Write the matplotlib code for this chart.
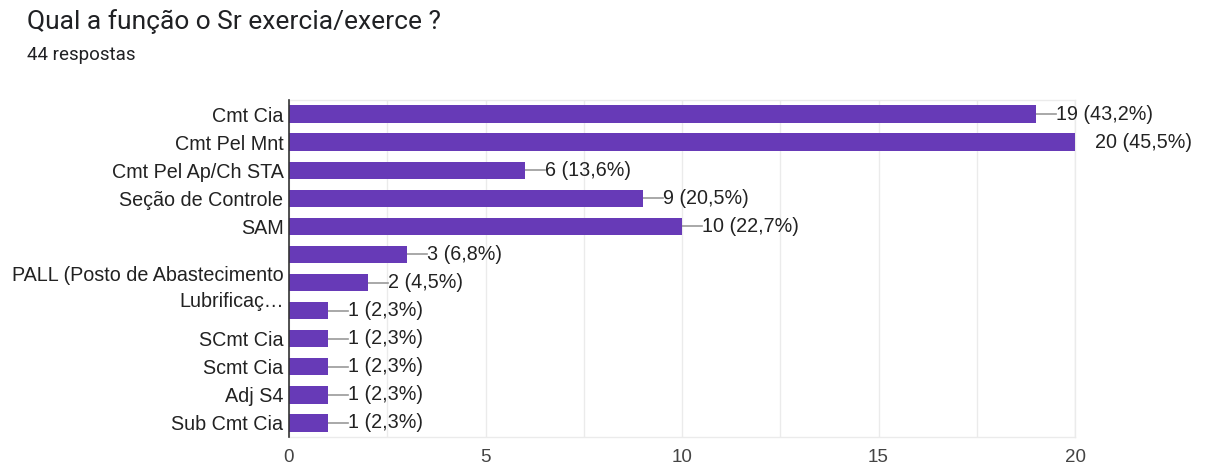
import matplotlib
matplotlib.use("Agg")
import matplotlib.pyplot as plt
from matplotlib.ticker import MultipleLocator
from matplotlib.transforms import ScaledTranslation

categories = ["Cmt Cia", "Cmt Pel Mnt", "Cmt Pel Ap/Ch STA", "Seção de Controle", "SAM",
              "", "PALL (Posto de Abastecimento\nLubrificaç…", "",
              "SCmt Cia", "Scmt Cia", "Adj S4", "Sub Cmt Cia"]
values = [19, 20, 6, 9, 10, 3, 2, 1, 1, 1, 1, 1]
labels = ["19 (43,2%)", "20 (45,5%)", "6 (13,6%)", "9 (20,5%)", "10 (22,7%)",
          "3 (6,8%)", "2 (4,5%)", "1 (2,3%)", "1 (2,3%)", "1 (2,3%)", "1 (2,3%)", "1 (2,3%)"]
xticks = [0, 5, 10, 15, 20]

plt.rcParams['font.family'] = ['Liberation Sans', 'DejaVu Sans']

fig = plt.figure(figsize=(12.05, 4.70), dpi=100)
ax = fig.add_axes([289/1205, 1-437/470, (1075-289)/1205, (437-100)/470])

fs = 14.2
y = list(range(len(values)))
ax.barh(y, values, height=0.62, color="#673ab7", zorder=3)
ax.set_ylim(len(values) - 0.5, -0.5)
ax.set_xlim(0, 20)
ax.set_yticks(y)
ax.set_yticklabels(categories, fontsize=fs, color="#222222", linespacing=1.5)
for t in ax.get_yticklabels():
    if "\n" in t.get_text():
        t.set_transform(t.get_transform() + ScaledTranslation(0, 4/100, fig.dpi_scale_trans))
ax.set_xticks(xticks)
ax.set_xticklabels([str(t) for t in xticks], fontsize=13.5, color="#444444")
ax.xaxis.set_minor_locator(MultipleLocator(2.5))
ax.tick_params(axis='both', which='both', length=0)
ax.tick_params(axis='y', pad=4)
ax.tick_params(axis='x', pad=9)
ax.grid(axis='x', which='both', color="#ebebeb", linewidth=1, zorder=0)
for s in ["top", "right", "bottom"]:
    ax.spines[s].set_color("#ebebeb")
    ax.spines[s].set_linewidth(1)
ax.spines["left"].set_color("#333333")
ax.spines["left"].set_linewidth(1.2)
ax.spines["left"].set_zorder(5)

px = 20 / (1075 - 289)
for yi, v, lab in zip(y, values, labels):
    ax.plot([v, v + 20 * px], [yi, yi], color="#999999", linewidth=1.2, zorder=2, clip_on=True)
    ax.text(v + 20 * px, yi, lab, fontsize=fs, color="#222222", va="center", ha="left",
            clip_on=False)

fig.text(27/1205, 1-22/470, "Qual a função o Sr exercia/exerce ?", fontsize=19,
         family=['Roboto', 'DejaVu Sans'], color="#202124", va="center", ha="left")
fig.text(27/1205, 1-55/470, "44 respostas", fontsize=13.5, family=['Roboto', 'DejaVu Sans'],
         color="#202124", va="center", ha="left")

fig.savefig("out.png", dpi=100)
